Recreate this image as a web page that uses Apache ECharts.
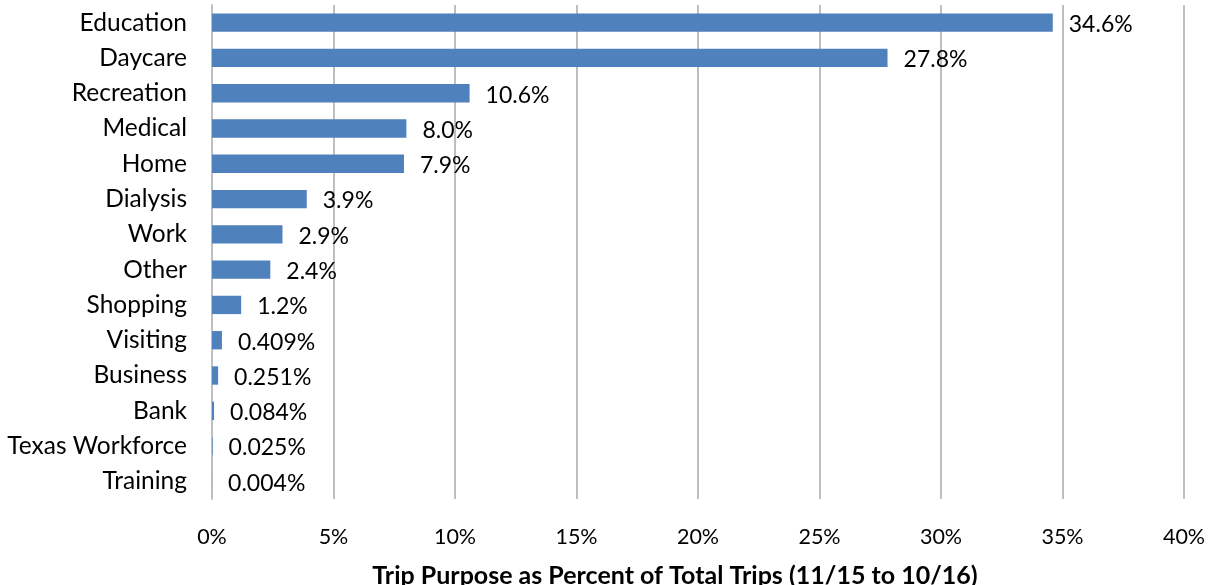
<!DOCTYPE html>
<html>
<head>
<meta charset="utf-8">
<script src="https://cdn.jsdelivr.net/npm/echarts@6/dist/echarts.min.js"></script>
<style>
  html, body { margin: 0; padding: 0; background: #fff; }
  #chart { width: 1214px; height: 585px; }
</style>
</head>
<body>
<div id="chart"></div>
<script>
const categories = ['Education', 'Daycare', 'Recreation', 'Medical', 'Home', 'Dialysis', 'Work',
  'Other', 'Shopping', 'Visiting', 'Business', 'Bank', 'Texas Workforce', 'Training'];
const values = [34.6, 27.8, 10.6, 8.0, 7.9, 3.9, 2.9, 2.4, 1.2, 0.409, 0.251, 0.084, 0.025, 0.004];
const valueLabels = ['34.6%', '27.8%', '10.6%', '8.0%', '7.9%', '3.9%', '2.9%', '2.4%', '1.2%',
  '0.409%', '0.251%', '0.084%', '0.025%', '0.004%'];
const xTicks = [0, 5, 10, 15, 20, 25, 30, 35, 40];

const font = 'Lato, "Open Sans", sans-serif';
const myChart = echarts.init(document.getElementById('chart'));
const option = {
  animation: false,
  grid: { left: 212, right: 30, top: 5, bottom: 86, outerBoundsMode: 'none' },
  xAxis: {
    type: 'value',
    min: xTicks[0],
    max: xTicks[xTicks.length - 1],
    interval: 5,
    name: 'Trip Purpose as Percent of Total Trips (11/15 to 10/16)',
    nameLocation: 'middle',
    nameGap: 64,
    nameTextStyle: {
      fontFamily: font, fontSize: 25, fontWeight: 'bold', color: '#000',
      padding: [0, 46, 0, 0]
    },
    axisLine: { show: false },
    axisTick: { show: false },
    axisLabel: { formatter: '{value}%', fontFamily: font, fontSize: 21.5, color: '#000', margin: 27 },
    splitLine: { show: true, lineStyle: { color: '#BFBFBF', width: 2 } }
  },
  yAxis: {
    type: 'category',
    inverse: true,
    data: categories,
    axisLine: { show: true, lineStyle: { color: '#BFBFBF', width: 2 } },
    axisTick: { show: false },
    axisLabel: { fontFamily: font, fontSize: 24.5, color: '#000', margin: 25 }
  },
  series: [{
    type: 'bar',
    data: values,
    barWidth: '52%',
    itemStyle: { color: '#4F81BD' },
    label: {
      show: true,
      position: 'right',
      distance: 16,
      fontFamily: font,
      fontSize: 23,
      color: '#000',
      offset: [0, 2],
      formatter: (p) => valueLabels[p.dataIndex]
    }
  }]
};
myChart.setOption(option);
</script>
</body>
</html>
